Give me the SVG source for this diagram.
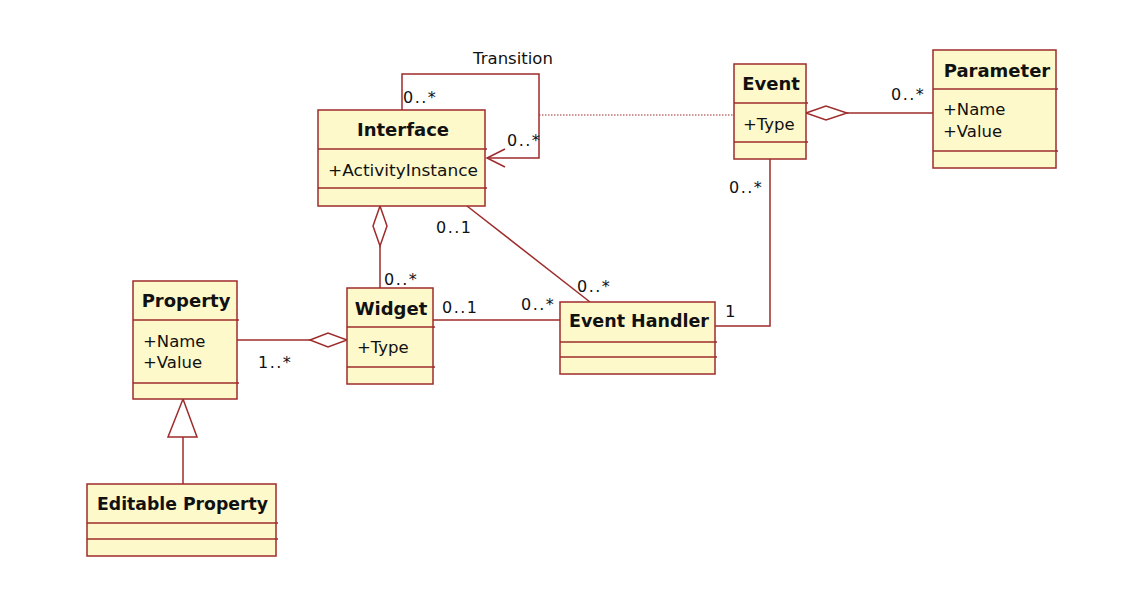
<svg xmlns="http://www.w3.org/2000/svg" width="1126" height="596" viewBox="0 0 1126 596">
<style>
.box{fill:#fdf9cb;stroke:#9e2b2b;stroke-width:1.5}
.div{stroke:#9e2b2b;stroke-width:1.5}
.ln{fill:none;stroke:#9e2b2b;stroke-width:1.5}
.dot{fill:none;stroke:#9e2b2b;stroke-width:1.2;stroke-dasharray:1.5 1.5}
.dia{fill:#ffffff;stroke:#9e2b2b;stroke-width:1.5}
.t{font-family:"DejaVu Sans",Verdana,sans-serif;font-size:16.5px;fill:#111}
.m{font-family:"DejaVu Sans",Verdana,sans-serif;font-size:16px;fill:#111;letter-spacing:1.5px}
.b{font-family:"DejaVu Sans",Verdana,sans-serif;font-size:18px;font-weight:bold;fill:#111}
</style>
<rect width="1126" height="596" fill="#ffffff"/>
<g id="connectors">
<polyline class="ln" points="402,110 402,74 539,74 539,158 487,158"/>
<polyline class="ln" points="505,149 487,158 505,167"/>
<line class="dot" x1="539" y1="115" x2="734" y2="115"/>
<line class="ln" x1="847" y1="113" x2="933" y2="113"/>
<polygon class="dia" points="806,113 826,106 847,113 826,120"/>
<line class="ln" x1="237" y1="340" x2="310" y2="340"/>
<polygon class="dia" points="310,340 328,333 347,340 328,347"/>
<line class="ln" x1="380" y1="246" x2="380" y2="288"/>
<polygon class="dia" points="380,206 387,226 380,246 373,226"/>
<line class="ln" x1="467" y1="206" x2="590" y2="302"/>
<line class="ln" x1="433" y1="320" x2="560" y2="320"/>
<polyline class="ln" points="770,159 770,326 715,326"/>
<line class="ln" x1="183" y1="437" x2="183" y2="484"/>
<polygon class="dia" points="183,399 197,437 168,437"/>
<text class="t" x="513" y="64" text-anchor="middle">Transition</text>
<text class="m" x="403" y="103">0..*</text>
<text class="m" x="507" y="146">0..*</text>
<text class="m" x="891" y="100">0..*</text>
<text class="m" x="729" y="193">0..*</text>
<text class="m" x="436" y="233">0..1</text>
<text class="m" x="577" y="292">0..*</text>
<text class="m" x="384" y="285">0..*</text>
<text class="m" x="442" y="313">0..1</text>
<text class="m" x="521" y="310">0..*</text>
<text class="t" x="725" y="317">1</text>
<text class="m" x="258" y="368">1..*</text>
</g>
<g id="interface">
<rect class="box" x="318" y="110" width="167" height="96"/>
<line class="div" x1="318" y1="149" x2="487" y2="149"/>
<line class="div" x1="318" y1="188" x2="487" y2="188"/>
<text class="b" x="403" y="136" text-anchor="middle">Interface</text>
<text class="t" x="328" y="176" textLength="150" lengthAdjust="spacingAndGlyphs">+ActivityInstance</text>
</g>
<g id="event">
<rect class="box" x="734" y="64" width="72" height="95"/>
<line class="div" x1="734" y1="103" x2="808" y2="103"/>
<line class="div" x1="734" y1="142" x2="808" y2="142"/>
<text class="b" x="771" y="90" text-anchor="middle">Event</text>
<text class="t" x="743" y="130">+Type</text>
</g>
<g id="parameter">
<rect class="box" x="933" y="50" width="123" height="118"/>
<line class="div" x1="933" y1="89" x2="1058" y2="89"/>
<line class="div" x1="933" y1="151" x2="1058" y2="151"/>
<text class="b" x="997" y="77" text-anchor="middle">Parameter</text>
<text class="t" x="943" y="115">+Name</text>
<text class="t" x="943" y="137">+Value</text>
</g>
<g id="property">
<rect class="box" x="133" y="281" width="104" height="118"/>
<line class="div" x1="133" y1="320" x2="239" y2="320"/>
<line class="div" x1="133" y1="383" x2="239" y2="383"/>
<text class="b" x="186" y="307" text-anchor="middle">Property</text>
<text class="t" x="143" y="347">+Name</text>
<text class="t" x="143" y="368">+Value</text>
</g>
<g id="widget">
<rect class="box" x="347" y="288" width="86" height="96"/>
<line class="div" x1="347" y1="327" x2="435" y2="327"/>
<line class="div" x1="347" y1="367" x2="435" y2="367"/>
<text class="b" x="391" y="315" text-anchor="middle">Widget</text>
<text class="t" x="357" y="353">+Type</text>
</g>
<g id="event-handler">
<rect class="box" x="560" y="302" width="155" height="72"/>
<line class="div" x1="560" y1="342" x2="717" y2="342"/>
<line class="div" x1="560" y1="357" x2="717" y2="357"/>
<text class="b" x="569" y="327" textLength="140" lengthAdjust="spacingAndGlyphs">Event Handler</text>
</g>
<g id="editable-property">
<rect class="box" x="87" y="484" width="189" height="72"/>
<line class="div" x1="87" y1="523" x2="278" y2="523"/>
<line class="div" x1="87" y1="539" x2="278" y2="539"/>
<text class="b" x="97" y="510" textLength="171" lengthAdjust="spacingAndGlyphs">Editable Property</text>
</g>
</svg>
